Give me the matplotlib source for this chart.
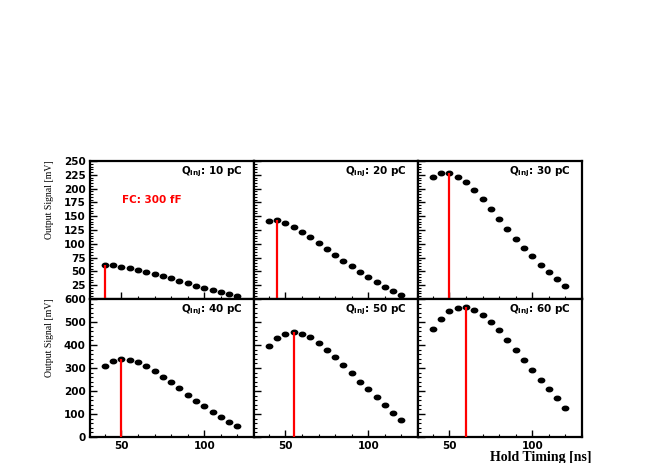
import numpy as np
import matplotlib.pyplot as plt
from matplotlib.path import Path
from matplotlib.ticker import MultipleLocator

plt.rcParams['mathtext.fontset'] = 'custom'
plt.rcParams['mathtext.rm'] = 'DejaVu Sans:bold'
plt.rcParams['mathtext.it'] = 'DejaVu Sans:bold'
plt.rcParams['mathtext.bf'] = 'DejaVu Sans:bold'

# hold timing (ns) and output signal (mV) for each injected charge
hold_ns = [40, 45, 50, 55, 60, 65, 70, 75, 80, 85, 90, 95, 100, 105, 110, 115, 120]
sig_10pc = [61.3, 60.7, 58.3, 55.9, 52.3, 49.3, 45.1, 40.9, 37.3, 32.5, 28.2, 23.4, 20.4, 16.2, 12.0, 8.4, 5.4]
sig_20pc = [141.8, 142.3, 138.2, 131.0, 122.0, 111.8, 101.0, 90.1, 79.9, 69.7, 58.9, 49.3, 39.7, 31.3, 22.2, 14.4, 7.2]
sig_30pc = [220.6, 227.8, 228.5, 221.8, 211.5, 197.7, 180.9, 163.5, 145.4, 126.8, 109.4, 91.9, 77.5, 62.5, 48.7, 35.5, 22.8]
sig_40pc = [309, 330, 337, 335, 325, 308, 288, 263, 237, 211, 184, 158, 133, 108, 87, 65, 46]
sig_50pc = [396, 429, 450, 457, 450, 434, 409, 380, 348, 314, 278, 241, 207, 172, 137, 106, 75]
sig_60pc = [468, 515, 546, 562, 565, 554, 531, 500, 464, 422, 379, 335, 293, 250, 210, 169, 127]

charges = ['10', '20', '30', '40', '50', '60']
signals = [sig_10pc, sig_20pc, sig_30pc, sig_40pc, sig_50pc, sig_60pc]

# squashed ellipse marker (the original is stretched horizontally)
circ = Path.unit_circle()
ell = Path(circ.vertices * np.array([1.0, 0.7]), circ.codes)

fig = plt.figure(figsize=(6.54, 4.63), dpi=100)
W, H = 654, 463
col_x = [90, 254, 418]
row_y = [161, 299]
pw, ph = 164, 138

for i, (q, sig) in enumerate(zip(charges, signals)):
    r, c = divmod(i, 3)
    x0 = col_x[c]
    y0 = row_y[r]
    ax = fig.add_axes([x0 / W, 1 - (y0 + ph) / H, pw / W, ph / H])
    ax.plot(hold_ns, sig, ls='none', marker=ell, ms=4.6, color='black')
    k = int(np.argmax(sig))
    ax.vlines(hold_ns[k], 0, sig[k], color='red', lw=1.6, zorder=3)
    ax.set_xlim(31, 130)
    if r == 0:
        ax.set_ylim(0, 250)
        ax.yaxis.set_major_locator(MultipleLocator(25))
        ax.yaxis.set_minor_locator(MultipleLocator(5))
    else:
        ax.set_ylim(0, 600)
        ax.yaxis.set_major_locator(MultipleLocator(100))
        ax.yaxis.set_minor_locator(MultipleLocator(20))
    ax.set_xticks([50, 100])
    ax.xaxis.set_minor_locator(MultipleLocator(10))
    ax.tick_params(which='both', direction='in', top=False, right=False, pad=3)
    ax.tick_params(which='major', length=5, width=1)
    ax.tick_params(which='minor', length=2.5, width=0.8)
    for s in ax.spines.values():
        s.set_linewidth(1.6)
    for lab in ax.get_xticklabels() + ax.get_yticklabels():
        lab.set_fontweight('bold')
        lab.set_fontsize(7.5)
    if c != 0:
        ax.set_yticklabels([])
    elif r == 0:
        ax.set_yticks(np.arange(25, 251, 25))
        ax.set_yticklabels([str(v) for v in range(25, 251, 25)], fontweight='bold', fontsize=7.5)
    if r == 0:
        ax.set_xticklabels([])
    ax.text(0.93, 0.92, r'$Q_{inj}$: ' + q + ' pC', transform=ax.transAxes,
            ha='right', va='center', fontsize=7.5, fontweight='bold')
    if i == 0:
        ax.text(0.195, 0.717, 'FC: 300 fF', transform=ax.transAxes, color='red',
                ha='left', va='center', fontsize=7.5, fontweight='bold')

fig.text(49 / W, 1 - 200 / H, 'Output Signal [mV]', rotation=90, ha='center', va='center',
         family='Liberation Serif', fontsize=7)
fig.text(49 / W, 1 - 338 / H, 'Output Signal [mV]', rotation=90, ha='center', va='center',
         family='Liberation Serif', fontsize=7)
fig.text(592 / W, 1 - 457 / H, 'Hold Timing [ns]', ha='right', va='center',
         family='Liberation Serif', fontweight='bold', fontsize=10)

fig.savefig('out.png', dpi=100)
